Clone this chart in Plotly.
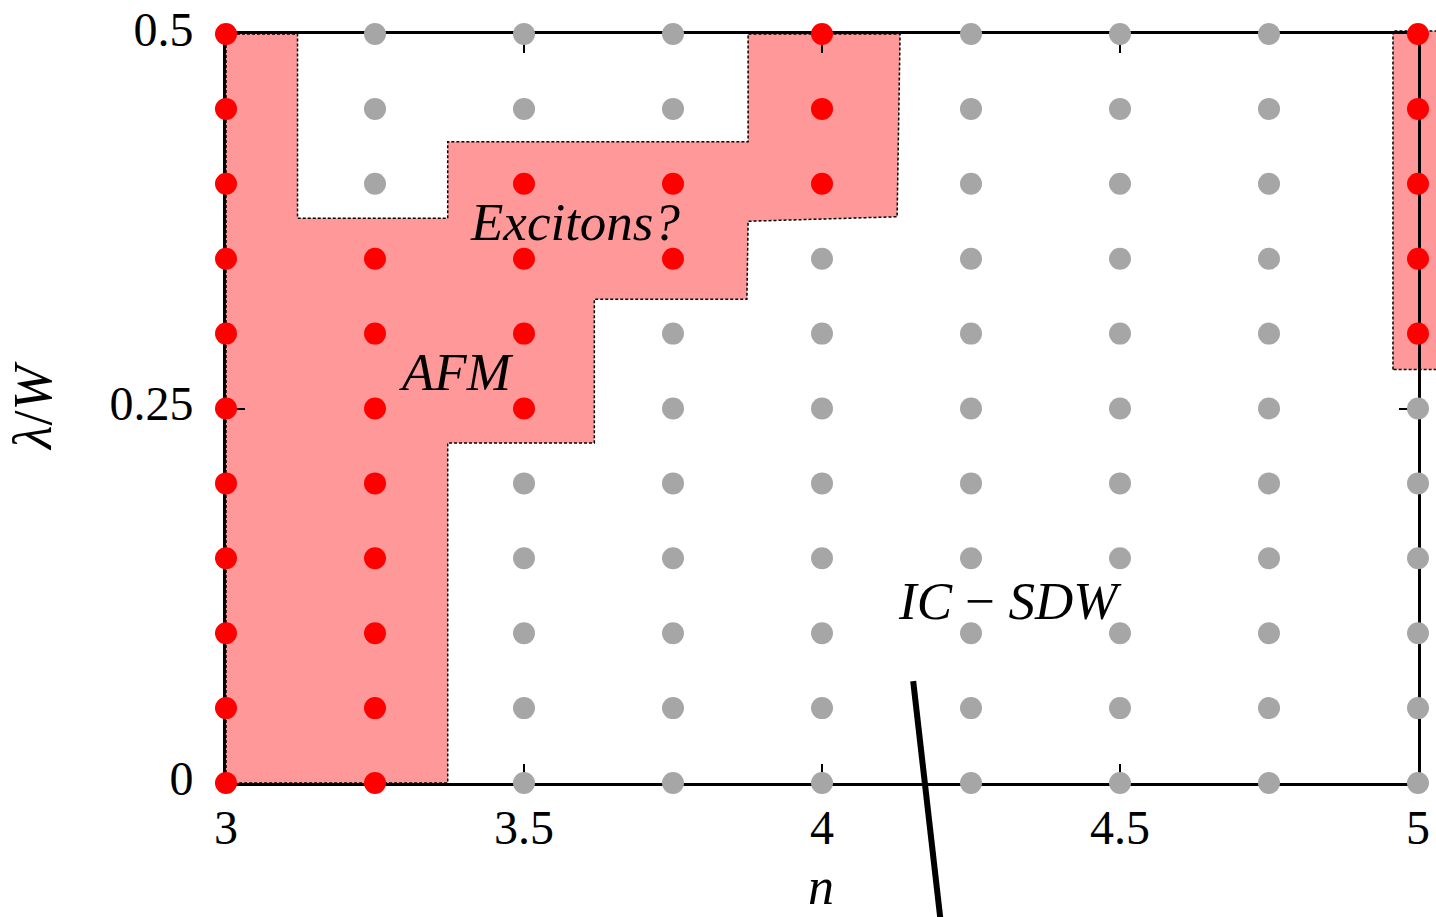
import plotly.graph_objects as go

# ---------------- data ----------------
n_grid = [3.0, 3.25, 3.5, 3.75, 4.0, 4.25, 4.5, 4.75, 5.0]
lam_grid = [0.0, 0.05, 0.10, 0.15, 0.20, 0.25, 0.30, 0.35, 0.40, 0.45, 0.50]
# 1 = AFM / ordered point (red), 0 = other (grey); rows follow lam_grid, columns n_grid
afm_flag = [
    [1, 1, 0, 0, 0, 0, 0, 0, 0],  # 0.00
    [1, 1, 0, 0, 0, 0, 0, 0, 0],  # 0.05
    [1, 1, 0, 0, 0, 0, 0, 0, 0],  # 0.10
    [1, 1, 0, 0, 0, 0, 0, 0, 0],  # 0.15
    [1, 1, 0, 0, 0, 0, 0, 0, 0],  # 0.20
    [1, 1, 1, 0, 0, 0, 0, 0, 0],  # 0.25
    [1, 1, 1, 0, 0, 0, 0, 0, 1],  # 0.30
    [1, 1, 1, 1, 0, 0, 0, 0, 1],  # 0.35
    [1, 0, 1, 1, 1, 0, 0, 0, 1],  # 0.40
    [1, 0, 0, 0, 1, 0, 0, 0, 1],  # 0.45
    [1, 0, 0, 0, 1, 0, 0, 0, 1],  # 0.50
]

# shaded AFM / exciton region boundary
region_n = [3.0, 3.0, 3.12, 3.12, 3.372, 3.372, 3.876, 3.876, 4.131, 4.126,
            3.876, 3.874, 3.618, 3.618, 3.372, 3.372, 3.0]
region_lam = [0.0, 0.5, 0.5, 0.377, 0.377, 0.428, 0.428, 0.5, 0.5, 0.378,
              0.375, 0.323, 0.323, 0.227, 0.227, 0.0, 0.0]
# shaded region at the right edge
edge_n = [4.958, 4.958, 5.06, 5.06, 4.958]
edge_lam = [0.276, 0.502, 0.502, 0.276, 0.276]
# thick black stroke crossing the lower axis
slash_n = [4.153, 4.203]
slash_lam = [0.068, -0.106]

x_ticks = [3, 3.5, 4, 4.5, 5]
x_ticktext = ["3", "3.5", "4", "4.5", "5"]
y_ticks = [0, 0.25, 0.5]
y_ticktext = ["0", "0.25", "0.5"]

labels = [
    ("<i>Excitons?</i>", 3.586, 0.3745),
    ("<i>AFM</i>", 3.386, 0.2744),
    ("<i>IC</i> − <i>SDW</i>", 4.315, 0.1215),
]

# ---------------- geometry ----------------
FIG_W, FIG_H = 1436, 917
L, R, T, B = 226, 1418, 34, 783          # frame box in pixels
X0, X1, Y0, Y1 = 3.0, 5.0, 0.0, 0.5      # frame box in data units
sx = (R - L) / (X1 - X0)
sy = (B - T) / (Y1 - Y0)
full_x = [X0 - L / sx, X1 + (FIG_W - R) / sx]
full_y = [Y0 - (FIG_H - B) / sy, Y1 + T / sy]

SERIF = "Liberation Serif"

fig = go.Figure()

# layer 1 (xy, full figure, drawn underneath): shaded regions + stroke
for xs, ys in [(region_n, region_lam), (edge_n, edge_lam)]:
    fig.add_trace(go.Scatter(
        x=xs, y=ys, mode="lines", fill="toself",
        fillcolor="rgba(255,0,0,0.4)",
        line=dict(color="black", width=1.5, dash="3px,2px"),
        hoverinfo="skip", showlegend=False, xaxis="x", yaxis="y"))
fig.add_trace(go.Scatter(
    x=slash_n, y=slash_lam, mode="lines",
    line=dict(color="black", width=6),
    hoverinfo="skip", showlegend=False, xaxis="x", yaxis="y"))

# layer 2 (x2y2, the framed axes): grid points
red_x, red_y, grey_x, grey_y = [], [], [], []
for i, lam in enumerate(lam_grid):
    for j, n in enumerate(n_grid):
        if afm_flag[i][j]:
            red_x.append(n); red_y.append(lam)
        else:
            grey_x.append(n); grey_y.append(lam)

fig.add_trace(go.Scatter(
    x=grey_x, y=grey_y, mode="markers",
    marker=dict(size=22, color="#a6a6a6", line=dict(width=0)),
    cliponaxis=False, showlegend=False, xaxis="x2", yaxis="y2"))
fig.add_trace(go.Scatter(
    x=red_x, y=red_y, mode="markers",
    marker=dict(size=22, color="#ff0000", line=dict(width=0)),
    cliponaxis=False, showlegend=False, xaxis="x2", yaxis="y2"))

annotations = []
for txt, ax_n, ax_l in labels:
    annotations.append(dict(
        text=txt, x=ax_n, y=ax_l, xref="x2", yref="y2", showarrow=False,
        xanchor="center", yanchor="middle",
        font=dict(family=SERIF, size=53, color="black")))
annotations.append(dict(
    text="<i>λ</i>/<i>W</i>", x=33 / FIG_W, y=1 - 406 / FIG_H,
    xref="paper", yref="paper", showarrow=False, textangle=-90,
    xanchor="center", yanchor="middle",
    font=dict(family=SERIF, size=54, color="black")))
annotations.append(dict(
    text="<i>n</i>", x=821 / FIG_W, y=0,
    xref="paper", yref="paper", showarrow=False,
    xanchor="center", yanchor="bottom",
    font=dict(family=SERIF, size=52, color="black")))

axis_common = dict(showgrid=False, zeroline=False, showline=True,
                   linecolor="black", linewidth=3, mirror="ticks",
                   ticks="inside", ticklen=19, tickwidth=2, tickcolor="black",
                   layer="below traces", fixedrange=True, automargin=False,
                   tickfont=dict(family=SERIF, size=48, color="black"))

fig.update_layout(
    width=FIG_W, height=FIG_H, autosize=False,
    margin=dict(l=0, r=0, t=0, b=0, pad=0, autoexpand=False),
    paper_bgcolor="white", plot_bgcolor="rgba(0,0,0,0)",
    showlegend=False,
    xaxis=dict(domain=[0, 1], range=full_x, visible=False, fixedrange=True,
               automargin=False),
    yaxis=dict(domain=[0, 1], range=full_y, visible=False, fixedrange=True,
               automargin=False),
    xaxis2=dict(domain=[L / FIG_W, R / FIG_W], range=[X0, X1], anchor="y2",
                tickvals=x_ticks, ticktext=x_ticktext, ticklabelstandoff=0,
                **axis_common),
    yaxis2=dict(domain=[(FIG_H - B) / FIG_H, (FIG_H - T) / FIG_H],
                range=[Y0, Y1], anchor="x2",
                tickvals=y_ticks, ticktext=y_ticktext, ticklabelstandoff=20,
                ticklabelshift=-5, **axis_common),
    annotations=annotations,
)

fig.write_html("out.html",
               config={"displayModeBar": False, "staticPlot": True},
               post_script="document.body.style.margin='0';"
                           "document.body.style.overflow='hidden';")
